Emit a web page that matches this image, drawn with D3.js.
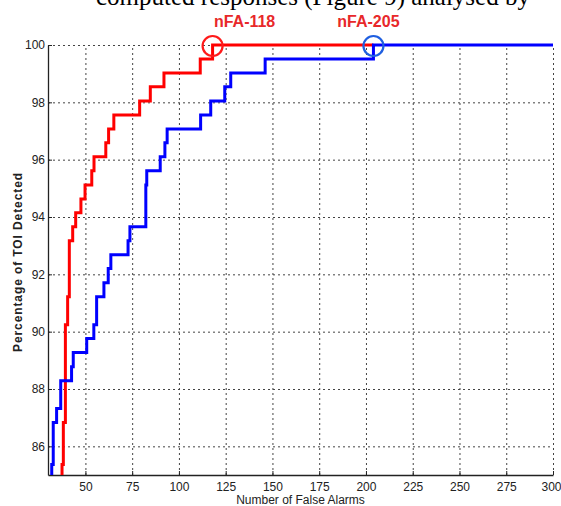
<!DOCTYPE html>
<html>
<head>
<meta charset="utf-8">
<script src="https://cdn.jsdelivr.net/npm/d3@7"></script>
<style>
  html, body { margin: 0; padding: 0; background: #fff; }
  svg { display: block; }
</style>
</head>
<body>
<div id="chart"></div>
<script>
// ---- data ----
const xTicks = [50, 75, 100, 125, 150, 175, 200, 225, 250, 275, 300];
const yTicks = [86, 88, 90, 92, 94, 96, 98, 100];
const xTitle = "Number of False Alarms";
const yTitle = "Percentage of TOI Detected";

// red curve: number of false alarms where each step starts, detection % reached
const redFA = [37.5, 37.5, 38.2, 39.3, 40.5, 41.4, 43.2, 44.8, 47.6, 49.8, 53.4, 54.6, 60.9, 62.4, 65.2, 79.0, 84.7, 92.0, 111.4, 118, 204];
const redPD = [84.5, 85.37, 86.83, 90.24, 91.22, 93.17, 93.66, 94.15, 94.63, 95.12, 95.61, 96.10, 96.59, 97.07, 97.56, 98.05, 98.54, 99.02, 99.51, 100, 100];

// blue curve
const blueFA = [32.0, 32.0, 32.8, 34.6, 36.8, 42.6, 43.5, 50.7, 54.5, 56.0, 59.9, 62.2, 63.6, 72.8, 73.8, 82.3, 82.8, 90.0, 92.5, 93.7, 111.6, 117.0, 124.5, 127.7, 146.1, 204, 300];
const bluePD = [84.5, 85.37, 86.83, 87.32, 88.29, 88.78, 89.27, 89.76, 90.24, 91.22, 91.71, 92.20, 92.68, 93.17, 93.66, 95.12, 95.61, 96.10, 96.59, 97.07, 97.56, 98.05, 98.54, 99.02, 99.51, 100, 100];

const markerFA = [118, 204];
const markerPD = [100, 100];
const markerLabels = ["nFA-118", "nFA-205"];
const markerColors = ["#ff1a1a", "#1f5fe0"];

// ---- layout ----
const W = 561, H = 506;
const mLeft = 48, mRight = 553, mTop = 45, mBottom = 475;
const labelDx = [32, -5];   // label offset (px) from its circle

const svg = d3.select("#chart").append("svg")
  .attr("width", W).attr("height", H);

// document text above the figure (cut off at the top edge in the reference)
svg.append("text")
  .attr("x", 96).attr("y", 5)
  .attr("font-family", "Liberation Serif, serif")
  .attr("font-size", 25)
  .attr("fill", "#000")
  .text("computed responses (Figure 9) analysed by");

const x = d3.scaleLinear().domain([30, 300]).range([mLeft, mRight]);
const y = d3.scaleLinear().domain([85, 100]).range([mBottom, mTop]);

// grid
const gx = svg.append("g").attr("transform", `translate(0,${mBottom})`)
  .call(d3.axisBottom(x).tickValues(xTicks).tickSize(-(mBottom - mTop)).tickFormat(""));
gx.select(".domain").remove();
gx.selectAll("line").attr("stroke", "#444").attr("stroke-dasharray", "2,3").attr("stroke-width", 1);

const gy = svg.append("g").attr("transform", `translate(${mLeft},0)`)
  .call(d3.axisLeft(y).tickValues(yTicks).tickSize(-(mRight - mLeft)).tickFormat(""));
gy.select(".domain").remove();
gy.selectAll("line").attr("stroke", "#444").attr("stroke-dasharray", "2,3").attr("stroke-width", 1);

// axes
const ax = svg.append("g").attr("transform", `translate(0,${mBottom})`)
  .call(d3.axisBottom(x).tickValues(xTicks).tickSizeInner(-4).tickSizeOuter(0).tickPadding(7));
ax.select(".domain").attr("stroke", "#222").attr("stroke-width", 1.3);
ax.selectAll("line").attr("stroke", "#222");
ax.selectAll("text").attr("font-family", "Arial, Liberation Sans, sans-serif")
  .attr("font-size", 12).attr("fill", "#222");
// keep the last label inside the page
ax.selectAll(".tick").filter(d => d === 300).select("text")
  .attr("text-anchor", "end").attr("x", W - mRight);

const ay = svg.append("g").attr("transform", `translate(${mLeft},0)`)
  .call(d3.axisLeft(y).tickValues(yTicks).tickSizeInner(-4).tickSizeOuter(0).tickPadding(3));
ay.select(".domain").attr("stroke", "#222").attr("stroke-width", 1.3);
ay.selectAll("line").attr("stroke", "#222");
ay.selectAll("text").attr("font-family", "Arial, Liberation Sans, sans-serif")
  .attr("font-size", 12).attr("fill", "#222");

// titles
svg.append("text")
  .attr("x", (mLeft + mRight) / 2).attr("y", 504)
  .attr("text-anchor", "middle")
  .attr("font-family", "Arial, Liberation Sans, sans-serif")
  .attr("font-size", 12).attr("fill", "#222")
  .text(xTitle);

svg.append("text")
  .attr("transform", `translate(22,${(mTop + mBottom) / 2 + 2}) rotate(-90)`)
  .attr("text-anchor", "middle")
  .attr("font-family", "Arial, Liberation Sans, sans-serif")
  .attr("font-size", 12).attr("font-weight", "bold")
  .attr("letter-spacing", 0.9)
  .attr("fill", "#222")
  .text(yTitle);

// clip for curves
svg.append("clipPath").attr("id", "plotclip")
  .append("rect").attr("x", mLeft).attr("y", mTop - 5)
  .attr("width", mRight - mLeft + 2).attr("height", mBottom - mTop + 5);

const line = d3.line().x(d => x(d[0])).y(d => y(d[1])).curve(d3.curveStepAfter);
const redData = redFA.map((f, i) => [f, redPD[i]]);
const blueData = blueFA.map((f, i) => [f, bluePD[i]]);

const plot = svg.append("g").attr("clip-path", "url(#plotclip)");
plot.append("path").datum(redData).attr("d", line)
  .attr("fill", "none").attr("stroke", "#ff0000").attr("stroke-width", 3)
  .attr("stroke-linejoin", "miter");
plot.append("path").datum(blueData).attr("d", line)
  .attr("fill", "none").attr("stroke", "#0000ff").attr("stroke-width", 3)
  .attr("stroke-linejoin", "miter");

// markers + labels
markerFA.forEach((fa, i) => {
  svg.append("circle")
    .attr("cx", x(fa)).attr("cy", y(markerPD[i]) + 1).attr("r", 10)
    .attr("fill", "none").attr("stroke", markerColors[i]).attr("stroke-width", 2.2);
  svg.append("text")
    .attr("x", x(fa) + labelDx[i]).attr("y", 27)
    .attr("text-anchor", "middle")
    .attr("font-family", "Arial, Liberation Sans, sans-serif")
    .attr("font-size", 16).attr("font-weight", "bold")
    .attr("fill", "#e8282a")
    .text(markerLabels[i]);
});
</script>
</body>
</html>
